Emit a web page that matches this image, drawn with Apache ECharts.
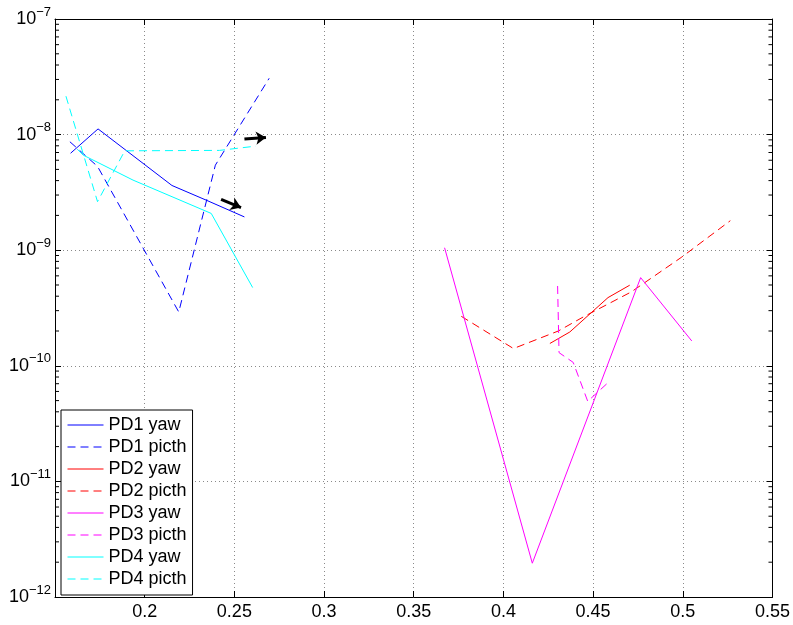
<!DOCTYPE html>
<html>
<head>
<meta charset="utf-8">
<script src="https://cdn.jsdelivr.net/npm/echarts@6/dist/echarts.min.js"></script>
<style>html,body{margin:0;padding:0;background:#fff}#c{width:793px;height:625px}</style>
</head>
<body>
<div id="c"></div>
<script>
// ---- data ----
const pd1YawX   = [0.1587, 0.1740, 0.2152, 0.2343, 0.2556];
const pd1YawY   = [6.9e-9, 1.12e-8, 3.63e-9, 2.71e-9, 1.94e-9];
const pd1PitchX = [0.1583, 0.1737, 0.2190, 0.2394, 0.2694];
const pd1PitchY = [8.67e-9, 5.31e-9, 2.92e-10, 5.44e-9, 3.07e-8];
const pd2YawX   = [0.4259, 0.4370, 0.4583, 0.4704];
const pd2YawY   = [1.56e-10, 1.96e-10, 3.89e-10, 4.98e-10];
const pd2PitchX = [0.3765, 0.4056, 0.4306, 0.4444, 0.4713, 0.4991, 0.5265];
const pd2PitchY = [2.68e-10, 1.41e-10, 2.0e-10, 2.64e-10, 4.36e-10, 8.65e-10, 1.80e-9];
const pd3YawX   = [0.3672, 0.4161, 0.4765, 0.5050];
const pd3YawY   = [1.05e-9, 1.96e-12, 5.79e-10, 1.64e-10];
const pd3PitchX = [0.4302, 0.4310, 0.4389, 0.4470, 0.4587];
const pd3PitchY = [4.9e-10, 1.3e-10, 1.07e-10, 4.93e-11, 7.24e-11];
const pd4YawX   = [0.1624, 0.1657, 0.1935, 0.2371, 0.2602];
const pd4YawY   = [7.49e-9, 6.65e-9, 4.04e-9, 2.08e-9, 4.75e-10];
const pd4PitchX = [0.1561, 0.1737, 0.1889, 0.2417, 0.2620];
const pd4PitchY = [2.15e-8, 2.63e-9, 7.24e-9, 7.3e-9, 7.95e-9];
// annotation arrows: [x1, y1, x2, y2]
const arrow1 = [0.2556, 9.14e-9, 0.2676, 9.46e-9];
const arrow2 = [0.2426, 2.75e-9, 0.2537, 2.34e-9];
// axes
const xMin = 0.15, xMax = 0.55, xStep = 0.05;
const yMin = 1e-12, yMax = 1e-7;
const seriesNames = ['PD1 yaw','PD1 picth','PD2 yaw','PD2 picth','PD3 yaw','PD3 picth','PD4 yaw','PD4 picth'];

const FONT = '"Liberation Sans", Arial, Helvetica, sans-serif';
const zip = (xs, ys) => xs.map((x, i) => [x, ys[i]]);

// minor log tick values (2..9 per decade)
const minorVals = [];
for (let e = -12; e < -7; e++) for (let k = 2; k <= 9; k++) minorVals.push([xMin, k * Math.pow(10, e)]);

function lineSeries(name, xs, ys, color, dashed) {
  return {
    name, type: 'line', data: zip(xs, ys), symbol: 'none', showSymbol: false,
    lineStyle: { color, width: 1, type: dashed ? [8, 5] : 'solid' },
    itemStyle: { color }, emphasis: { disabled: true }, z: 3
  };
}

const gridLine = { show: true, lineStyle: { color: '#8a8a8a', width: 1, type: [1, 3] } };
const axisLineBlack = { show: true, lineStyle: { color: '#000', width: 1 } };

const chart = echarts.init(document.getElementById('c'), null, { renderer: 'canvas' });
chart.setOption({
  animation: false,
  backgroundColor: '#fff',
  grid: { left: 55, right: 18, top: 19, bottom: 28, containLabel: false },
  xAxis: [{
    type: 'value', min: xMin, max: xMax, interval: xStep, position: 'bottom',
    axisLine: axisLineBlack,
    axisTick: { show: true, inside: true, length: 6, lineStyle: { color: '#000' } },
    axisLabel: {
      margin: 6, fontSize: 18, fontFamily: FONT, color: '#000',
      formatter: v => (Math.abs(v - xMin) < 1e-9 ? '' : String(+v.toFixed(2)))
    },
    splitLine: gridLine
  }, {
    type: 'value', min: xMin, max: xMax, interval: xStep, position: 'top',
    axisLine: axisLineBlack,
    axisTick: { show: true, inside: true, length: 6, lineStyle: { color: '#000' } },
    axisLabel: { show: false }, splitLine: { show: false }
  }],
  yAxis: [{
    type: 'log', logBase: 10, min: yMin, max: yMax, position: 'left',
    axisLine: axisLineBlack,
    axisTick: { show: true, inside: true, length: 6, lineStyle: { color: '#000' } },
    axisLabel: {
      margin: 4, fontFamily: FONT, color: '#000',
      formatter: v => '{b|10}{s|\u2212' + (-Math.round(Math.log10(v))) + '}',
      rich: {
        b: { fontSize: 18, fontFamily: FONT, color: '#000', lineHeight: 20 },
        s: { fontSize: 13, fontFamily: FONT, color: '#000', lineHeight: 14, padding: [0, 0, 14, 0] }
      }
    },
    splitLine: gridLine
  }, {
    type: 'log', logBase: 10, min: yMin, max: yMax, position: 'right',
    axisLine: axisLineBlack,
    axisTick: { show: true, inside: true, length: 6, lineStyle: { color: '#000' } },
    axisLabel: { show: false }, splitLine: { show: false }
  }],
  legend: {
    data: seriesNames, orient: 'vertical', left: 61, top: 410,
    itemWidth: 36, itemHeight: 14, itemGap: 4, padding: [6, 6, 7, 6],
    borderColor: '#000', borderWidth: 1, backgroundColor: '#fff',
    selectedMode: false,
    itemStyle: { opacity: 0 },
    lineStyle: { width: 1 },
    textStyle: { fontSize: 18, fontFamily: FONT, color: '#000', lineHeight: 18 }
  },
  series: [
    lineSeries(seriesNames[0], pd1YawX, pd1YawY, '#0000ff', false),
    lineSeries(seriesNames[1], pd1PitchX, pd1PitchY, '#0000ff', true),
    lineSeries(seriesNames[2], pd2YawX, pd2YawY, '#ff0000', false),
    lineSeries(seriesNames[3], pd2PitchX, pd2PitchY, '#ff0000', true),
    lineSeries(seriesNames[4], pd3YawX, pd3YawY, '#ff00ff', false),
    lineSeries(seriesNames[5], pd3PitchX, pd3PitchY, '#ff00ff', true),
    lineSeries(seriesNames[6], pd4YawX, pd4YawY, '#00ffff', false),
    lineSeries(seriesNames[7], pd4PitchX, pd4PitchY, '#00ffff', true),
    {
      type: 'lines', coordinateSystem: 'cartesian2d', silent: true, z: 5,
      symbol: ['none', 'arrow'], symbolSize: 10,
      lineStyle: { color: '#000', width: 3, opacity: 1, curveness: 0 },
      data: [
        { coords: [[arrow1[0], arrow1[1]], [arrow1[2], arrow1[3]]] },
        { coords: [[arrow2[0], arrow2[1]], [arrow2[2], arrow2[3]]] }
      ]
    },
    {
      type: 'custom', silent: true, z: 2, clip: false,
      data: minorVals,
      renderItem: (params, api) => {
        const v = api.value(1);
        const p = api.coord([xMin, v]);
        const q = api.coord([xMax, v]);
        return {
          type: 'group', children: [
            { type: 'line', shape: { x1: p[0], y1: p[1], x2: p[0] + 4, y2: p[1] }, style: { stroke: '#000', lineWidth: 1 } },
            { type: 'line', shape: { x1: q[0] - 4, y1: q[1], x2: q[0], y2: q[1] }, style: { stroke: '#000', lineWidth: 1 } }
          ]
        };
      }
    }
  ]
});
</script>
</body>
</html>
